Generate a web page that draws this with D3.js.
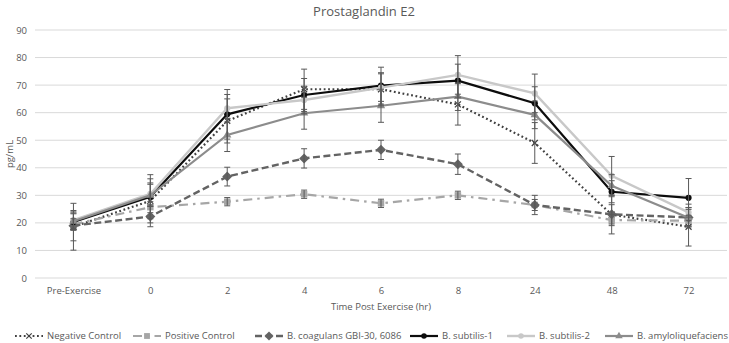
<!DOCTYPE html>
<html>
<head>
<meta charset="utf-8">
<script src="https://cdn.jsdelivr.net/npm/d3@7"></script>
<style>
  body { margin: 0; background: #fff; }
  text { font-family: "Open Sans", "Liberation Sans", sans-serif; fill: #595959; }
</style>
</head>
<body>
<div id="chart"></div>
<script>
// Categories on the x axis
const timePoints = ["Pre-Exercise", "0", "2", "4", "6", "8", "24", "48", "72"];
const yTicks = [0, 10, 20, 30, 40, 50, 60, 70, 80, 90];

// Series means (pg/mL) and error bar half-widths
const negativeControl = [18.6, 28, 57, 68.5, 68.5, 63, 49, 23, 18.6];
const negativeErr     = [8.5, 8, 8, 7.3, 6, 7.5, 7.4, 7, 7];
const positiveControl = [19.5, 25.7, 27.7, 30.4, 27.1, 30, 26.5, 21, 20.8];
const positiveErr     = [2, 2, 1.5, 1.5, 1.5, 1.5, 2, 2, 2];
const coagulans       = [19, 22.3, 36.8, 43.4, 46.5, 41.3, 26.5, 23.1, 22];
const coagulansErr    = [5.5, 3.7, 3.4, 3.5, 3.5, 3.7, 3.5, 3.5, 3.5];
const subtilis1       = [20.3, 29.5, 59.4, 66.4, 69.8, 71.6, 63.4, 31.3, 29.1];
const subtilis1Err    = [3, 8, 9, 6, 6.7, 6, 6, 4, 7];
const subtilis2       = [21, 30.5, 61.6, 64.6, 69.1, 73.7, 67, 37.1, 23.8];
const subtilis2Err    = [3, 4, 5, 5, 5, 7, 7, 7, 3];
const amylo           = [20.6, 30, 51.9, 59.8, 62.5, 65.8, 59.2, 33.5, 21.9];
const amyloErr        = [3, 4, 6, 5.8, 6, 5, 5, 4, 3];

const series = [
  { name: "Negative Control", values: negativeControl, err: negativeErr, color: "#404040", dash: "1.8 2.6", width: 2.2, marker: "x" },
  { name: "Positive Control", values: positiveControl, err: positiveErr, color: "#a6a6a6", dash: "9 5 2.5 5", width: 2.2, marker: "square" },
  { name: "B. coagulans GBI-30, 6086", values: coagulans, err: coagulansErr, color: "#636363", dash: "7 3.5", width: 2.4, marker: "diamond" },
  { name: "B. subtilis-1", values: subtilis1, err: subtilis1Err, color: "#0d0d0d", dash: null, width: 2.2, marker: "circle" },
  { name: "B. subtilis-2", values: subtilis2, err: subtilis2Err, color: "#c8c8c8", dash: null, width: 2.4, marker: "circle" },
  { name: "B. amyloliquefaciens", values: amylo, err: amyloErr, color: "#8c8c8c", dash: null, width: 2.2, marker: "triangle" }
];

const W = 729, H = 343;
const margin = { top: 30, right: 2, bottom: 65, left: 35 };

const svg = d3.select("#chart").append("svg")
  .attr("width", W).attr("height", H);

const x = d3.scalePoint().domain(timePoints)
  .range([margin.left, W - margin.right]).padding(0.5);
const y = d3.scaleLinear().domain([0, 90])
  .range([278, 30]);

// gridlines
svg.append("g").selectAll("line").data(yTicks).join("line")
  .attr("x1", margin.left).attr("x2", W - margin.right)
  .attr("y1", d => y(d)).attr("y2", d => y(d))
  .attr("stroke", "#d9d9d9").attr("stroke-width", 1);

// y axis labels
const yAxis = svg.append("g")
  .attr("transform", `translate(${margin.left - 8},0)`)
  .call(d3.axisLeft(y).tickValues(yTicks).tickSize(0).tickPadding(0));
yAxis.select(".domain").remove();
yAxis.selectAll("text").style("font-size", "9.5px").attr("fill", "#595959")
  .style("font-family", '"Open Sans", sans-serif');

// x axis labels
const xAxis = svg.append("g")
  .attr("transform", `translate(0,${y(0)})`)
  .call(d3.axisBottom(x).tickSize(0).tickPadding(9));
xAxis.select(".domain").remove();
xAxis.selectAll("text").style("font-size", "9.5px").attr("fill", "#595959")
  .style("font-family", '"Open Sans", sans-serif');

// titles
svg.append("text").attr("x", 364).attr("y", 16).attr("text-anchor", "middle")
  .style("font-size", "13px").text("Prostaglandin E2");
svg.append("text").attr("x", 381).attr("y", 310).attr("text-anchor", "middle")
  .style("font-size", "9.5px").text("Time Post Exercise (hr)");
svg.append("text").attr("transform", `translate(13,${(y(0) + y(90)) / 2}) rotate(-90)`)
  .attr("text-anchor", "middle").style("font-size", "9.5px").text("pg/mL");

const line = d3.line().x((d, i) => x(timePoints[i])).y(d => y(d));

function drawMarker(g, type, color, cx, cy, scale) {
  const s = scale || 1;
  if (type === "x") {
    const r = 3 * s;
    g.append("path").attr("d", `M${cx - r},${cy - r}L${cx + r},${cy + r}M${cx - r},${cy + r}L${cx + r},${cy - r}`)
      .attr("stroke", color).attr("stroke-width", 1.2).attr("fill", "none");
  } else if (type === "diamond") {
    // square turned 45 degrees, like the spreadsheet's diamond marker
    g.append("path").attr("d", d3.symbol(d3.symbolSquare, 50 * s * s)())
      .attr("transform", `translate(${cx},${cy}) rotate(45)`)
      .attr("fill", color);
  } else {
    const sym = { square: d3.symbolSquare, circle: d3.symbolCircle, triangle: d3.symbolTriangle }[type];
    const size = { square: 42, circle: 30, triangle: 30 }[type] * s * s;
    g.append("path").attr("d", d3.symbol(sym, size)())
      .attr("transform", `translate(${cx},${cy})`)
      .attr("fill", color);
  }
}

// lines and markers
series.forEach(s => {
  const g = svg.append("g");
  g.append("path").datum(s.values)
    .attr("d", line).attr("fill", "none")
    .attr("stroke", s.color).attr("stroke-width", s.width)
    .attr("stroke-dasharray", s.dash);
  s.values.forEach((v, i) => drawMarker(g, s.marker, s.color, x(timePoints[i]), y(v)));
});

// error bars
series.forEach(s => {
  const g = svg.append("g").attr("stroke", "#595959").attr("stroke-width", 1);
  s.values.forEach((v, i) => {
    const cx = x(timePoints[i]);
    const y1 = y(v - s.err[i]), y2 = y(v + s.err[i]);
    g.append("line").attr("x1", cx).attr("x2", cx).attr("y1", y1).attr("y2", y2);
    [y1, y2].forEach(yy => g.append("line")
      .attr("x1", cx - 3).attr("x2", cx + 3).attr("y1", yy).attr("y2", yy));
  });
});

// legend
const legendX = [15, 133, 255, 410, 507, 605];
const legendY = 336;
series.forEach((s, i) => {
  const g = svg.append("g");
  const x0 = legendX[i];
  g.append("line").attr("x1", x0).attr("x2", x0 + 28)
    .attr("y1", legendY).attr("y2", legendY)
    .attr("stroke", s.color).attr("stroke-width", s.width)
    .attr("stroke-dasharray", s.dash);
  drawMarker(g, s.marker, s.color, x0 + 14, legendY, 0.9);
  g.append("text").attr("x", x0 + 32).attr("y", legendY + 3.3)
    .style("font-size", "9.5px").text(s.name);
});
</script>
</body>
</html>
